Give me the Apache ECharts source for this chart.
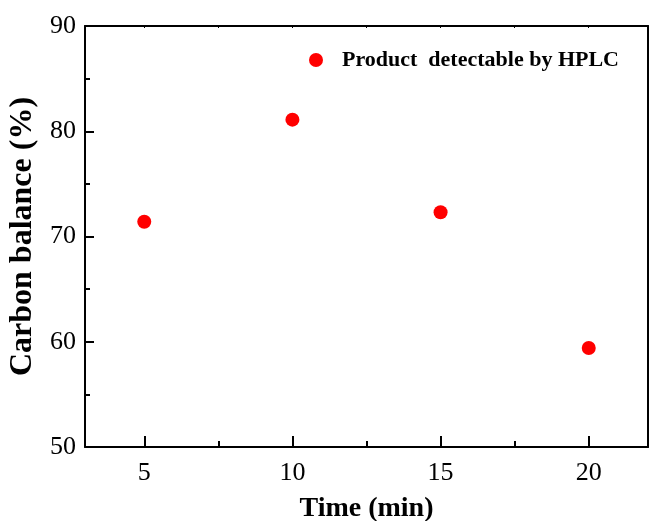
<!DOCTYPE html>
<html>
<head>
<meta charset="utf-8">
<script src="https://cdn.jsdelivr.net/npm/echarts@6/dist/echarts.min.js"></script>
<style>
  html, body { margin: 0; padding: 0; background: #fff; }
  #chart { width: 649px; height: 521px; }
</style>
</head>
<body>
<div id="chart"></div>
<script>
// Carbon balance measured at each sampling time
const times = [5, 10, 15, 20];
const carbonBalance = [71.4, 81.1, 72.3, 59.4];
const seriesName = 'Product  detectable by HPLC';
const xMajorTicks = [5, 10, 15, 20];
const xMinorTicks = [7.5, 12.5, 17.5];

const FONT = '"Liberation Serif", "Times New Roman", serif';
const points = times.map((t, i) => [t, carbonBalance[i]]);

const chart = echarts.init(document.getElementById('chart'), null, { renderer: 'canvas' });

const axisLine = { show: true, onZero: false, lineStyle: { color: '#000', width: 2 } };

chart.setOption({
  backgroundColor: '#fff',
  animation: false,
  grid: { left: 85, right: 1, top: 26, bottom: 74, containLabel: false, outerBoundsMode: 'none' },
  legend: {
    data: [seriesName],
    left: 304,
    top: 44,
    icon: 'circle',
    itemWidth: 14,
    itemHeight: 14,
    textStyle: { fontFamily: FONT, fontSize: 22, fontWeight: 'bold', color: '#000', padding: [0, 0, 0, 14] }
  },
  xAxis: [
    {
      type: 'value',
      min: 3, max: 22,
      position: 'bottom',
      name: 'Time (min)',
      nameLocation: 'middle',
      nameGap: 48,
      nameTextStyle: { fontFamily: FONT, fontSize: 28, fontWeight: 'bold', color: '#000' },
      axisLine: axisLine,
      axisTick: { show: true, inside: true, length: 11, lineStyle: { color: '#000', width: 2 }, customValues: xMajorTicks },
      axisLabel: { fontFamily: FONT, fontSize: 26, color: '#000', margin: 13, customValues: xMajorTicks },
      splitLine: { show: false }
    },
    {
      // minor ticks on the bottom edge
      type: 'value',
      min: 3, max: 22,
      position: 'bottom',
      axisLine: { show: false },
      axisTick: { show: true, inside: true, length: 6, lineStyle: { color: '#000', width: 2 }, customValues: xMinorTicks },
      axisLabel: { show: false, customValues: xMinorTicks },
      splitLine: { show: false }
    },
    {
      // frame top edge
      type: 'value',
      min: 3, max: 22,
      position: 'top',
      axisLine: axisLine,
      axisTick: { show: true, inside: true, length: 2, lineStyle: { color: '#000', width: 1 }, customValues: xMajorTicks.concat(xMinorTicks) },
      axisLabel: { show: false, customValues: xMajorTicks },
      splitLine: { show: false }
    }
  ],
  yAxis: [
    {
      type: 'value',
      min: 50, max: 90, interval: 10,
      position: 'left',
      name: 'Carbon balance (%)',
      nameLocation: 'middle',
      nameGap: 42,
      nameRotate: 90,
      nameTextStyle: { fontFamily: FONT, fontSize: 32, fontWeight: 'bold', color: '#000' },
      axisLine: axisLine,
      axisTick: { show: true, inside: true, length: 9, lineStyle: { color: '#000', width: 2 } },
      minorTick: { show: true, splitNumber: 2, length: 5, lineStyle: { color: '#000', width: 2 } },
      axisLabel: { fontFamily: FONT, fontSize: 26, color: '#000', margin: 9 },
      splitLine: { show: false },
      minorSplitLine: { show: false }
    },
    {
      // frame right edge
      type: 'value',
      min: 50, max: 90, interval: 10,
      position: 'right',
      axisLine: axisLine,
      axisTick: { show: false },
      axisLabel: { show: false },
      splitLine: { show: false }
    }
  ],
  series: [
    {
      name: seriesName,
      type: 'scatter',
      xAxisIndex: 0,
      yAxisIndex: 0,
      symbol: 'circle',
      symbolSize: 14,
      itemStyle: { color: '#ff0000', opacity: 1 },
      data: points
    }
  ]
});
</script>
</body>
</html>
